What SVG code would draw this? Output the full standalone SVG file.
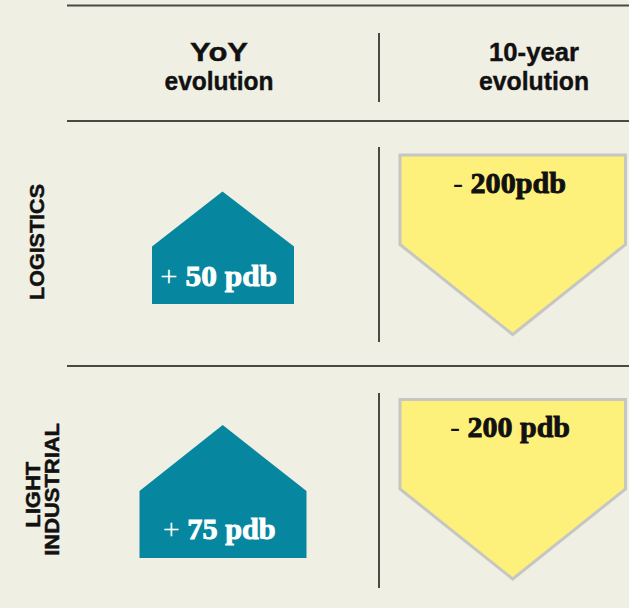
<svg xmlns="http://www.w3.org/2000/svg" width="629" height="608" viewBox="0 0 629 608">
  <style>
    .rule { stroke: #4a4a44; stroke-width: 2; fill: none; }
    .head { font-family: "Liberation Sans", Arial, sans-serif; font-weight: bold; font-size: 25px; fill: #111; stroke: #111; stroke-width: 0.4; text-anchor: middle; }
    .side { font-family: "Liberation Sans", Arial, sans-serif; font-weight: bold; font-size: 20px; fill: #111; stroke: #111; stroke-width: 0.5; text-anchor: middle; }
    .up { fill: #07879f; }
    .down { fill: #fdf07b; stroke: #c6c6c2; stroke-width: 3; }
    .val { font-family: "Liberation Serif", "Times New Roman", serif; font-weight: bold; font-size: 30px; stroke-width: 0.9; text-anchor: middle; }
    .light { fill: #fff; stroke: #fff; }
    .dark { fill: #111; stroke: #111; }
    .sign { font-weight: normal; stroke-width: 0; }
  </style>
  <rect width="629" height="608" fill="#f0efe4"/>

  <!-- table rules -->
  <g id="connectors">
    <line class="rule" x1="67" y1="5.5" x2="629" y2="5.5" stroke-width="1.6"/>
    <line class="rule" x1="67" y1="121" x2="629" y2="121"/>
    <line class="rule" x1="67" y1="366" x2="629" y2="366"/>
    <line class="rule" x1="379" y1="33" x2="379" y2="102"/>
    <line class="rule" x1="379" y1="147" x2="379" y2="342"/>
    <line class="rule" x1="379" y1="393" x2="379" y2="588"/>
  </g>

  <!-- column headers -->
  <g id="header-yoy">
    <text class="head" x="219" y="60.5" textLength="58" lengthAdjust="spacingAndGlyphs">YoY</text>
    <text class="head" x="219" y="90" textLength="109" lengthAdjust="spacingAndGlyphs">evolution</text>
  </g>
  <g id="header-10y">
    <text class="head" x="534" y="60.5" textLength="90" lengthAdjust="spacingAndGlyphs">10-year</text>
    <text class="head" x="534" y="90" textLength="110" lengthAdjust="spacingAndGlyphs">evolution</text>
  </g>

  <!-- row labels -->
  <g id="label-logistics">
    <text class="side" transform="translate(43.5,242) rotate(-90)" textLength="116" lengthAdjust="spacingAndGlyphs">LOGISTICS</text>
  </g>
  <g id="label-light-industrial">
    <text class="side" transform="translate(39.5,494.7) rotate(-90)" textLength="66" lengthAdjust="spacingAndGlyphs">LIGHT</text>
    <text class="side" transform="translate(59.3,489.4) rotate(-90)" textLength="132.7" lengthAdjust="spacingAndGlyphs">INDUSTRIAL</text>
  </g>

  <!-- logistics values -->
  <g id="logistics-yoy">
    <polygon class="up" points="222.5,191.5 294,246.5 294,304 152,304 152,246.5"/>
    <text class="val light" x="218.5" y="286" textLength="117" lengthAdjust="spacingAndGlyphs"><tspan class="sign">+ </tspan>50 pdb</text>
  </g>
  <g id="logistics-10y">
    <polygon class="down" points="400,155 625.5,155 625.5,244.5 512.7,334.5 400,244.5"/>
    <text class="val dark" x="509.5" y="193.3" textLength="113" lengthAdjust="spacingAndGlyphs"><tspan class="sign">- </tspan>200pdb</text>
  </g>

  <!-- light industrial values -->
  <g id="light-industrial-yoy">
    <polygon class="up" points="222.7,425 306.5,491 306.5,558 139.5,558 139.5,491"/>
    <text class="val light" x="219.2" y="539.3" textLength="113" lengthAdjust="spacingAndGlyphs"><tspan class="sign">+ </tspan>75 pdb</text>
  </g>
  <g id="light-industrial-10y">
    <polygon class="down" points="400,399.5 625.5,399.5 625.5,489 512.7,579 400,489"/>
    <text class="val dark" x="510" y="437.3" textLength="120" lengthAdjust="spacingAndGlyphs"><tspan class="sign">- </tspan>200 pdb</text>
  </g>
</svg>
